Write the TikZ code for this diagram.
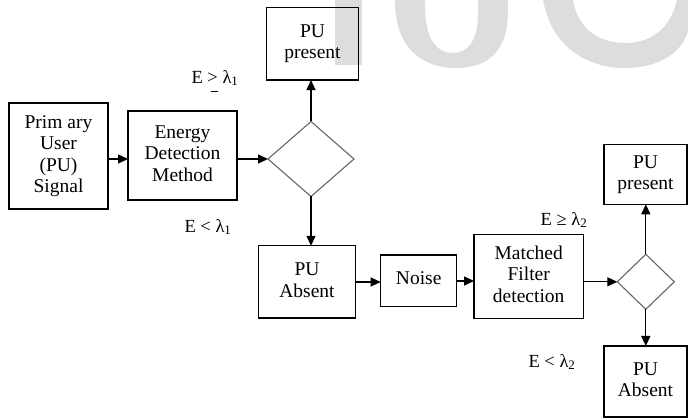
\documentclass[tikz,border=0pt]{standalone}
\usepackage{fontspec}
\setmainfont{Liberation Serif}
\usetikzlibrary{arrows.meta,shapes.geometric}
\definecolor{wm}{HTML}{DDDDDD}
\definecolor{diagray}{HTML}{666666}
\newcommand\boxtext[2]{\raisebox{#1pt}{\begin{tabular}{@{}c@{}}#2\end{tabular}}}
\begin{document}
\begin{tikzpicture}[x=1pt,y=-1pt,
  every node/.style={font=\fontsize{19.5}{21.5}\selectfont},
  blk/.style={draw=black,line width=1.3pt,rectangle,inner sep=0pt,outer sep=0pt},
  dec/.style={draw=diagray,line width=1.1pt,diamond,inner sep=0pt,outer sep=0pt},
  lbl/.style={inner sep=0pt,font=\fontsize{18.5}{21}\selectfont},
  arr/.style={draw=black,line width=1.3pt,-{Triangle[length=10pt,width=9pt]}}]
\useasboundingbox (0,0) rectangle (688,419);
% watermark
\fill[wm] (335,0) rectangle (362,65);
\fill[wm] (395,0) -- (395,5) .. controls (397,55) and (430,68) .. (455,68)
  .. controls (490,68) and (508,50) .. (508,10) -- (508,0) -- (478,0) -- (478,15)
  .. controls (478,40) and (468,53) .. (453,53) .. controls (437,53) and (425,40) .. (425,5)
  -- (425,0) -- cycle;
\fill[wm] (543,0) .. controls (552,48) and (588,68) .. (625,68)
  .. controls (662,68) and (688,50) .. (690,20) -- (690,0) -- (677,0)
  .. controls (670,30) and (650,43) .. (625,43) .. controls (600,43) and (578,30) .. (573,0)
  -- cycle;
% blocks
\node[blk,minimum width=99pt,minimum height=106pt] (prim) at (58.5,156) {\boxtext{3}{Prim ary\\User\\(PU)\\Signal}};
\node[blk,minimum width=109pt,minimum height=89pt] (energy) at (182.5,155.5) {\boxtext{3}{Energy\\Detection\\Method}};
\node[dec,minimum width=86pt,minimum height=75pt] (dia1) at (311,159) {};
\node[blk,minimum width=91.6pt,minimum height=72.7pt] (pres1) at (312.5,43.7) {\boxtext{4}{PU\\present}};
\node[blk,minimum width=97.4pt,minimum height=72.3pt] (abs1) at (307,282) {\boxtext{4}{PU\\Absent}};
\node[blk,minimum width=76pt,minimum height=51.7pt] (noise) at (418.7,281) {\boxtext{7}{Noise}};
\node[blk,minimum width=109.3pt,minimum height=84pt] (match) at (528.7,276.3) {\boxtext{0}{Matched\\Filter\\detection}};
\node[dec,minimum width=57pt,minimum height=55pt] (dia2) at (645.8,281.8) {};
\node[blk,minimum width=83pt,minimum height=59.6pt] (pres2) at (645.5,174.5) {\boxtext{0}{PU\\present}};
\node[blk,minimum width=83pt,minimum height=71pt] (abs2) at (645.5,381.5) {\boxtext{4}{PU\\Absent}};
% labels
\node[lbl] (lab1) at (215,78) {E > λ\textsubscript{1}};
\node[lbl] (dash1) at (214,92) {\rule{7pt}{1pt}};
\node[lbl] (lab2) at (208,227) {E < λ\textsubscript{1}};
\node[lbl] (lab3) at (564,220) {E ≥ λ\textsubscript{2}};
\node[lbl] (lab4) at (552,362) {E < λ\textsubscript{2}};
% connectors
\draw[arr] (prim.east |- dia1.west) -- (energy.west |- dia1.west);
\draw[arr] (energy.east |- dia1.west) -- (dia1.west);
\draw[arr] (dia1.north) -- (dia1.north |- pres1.south);
\draw[arr] (dia1.south) -- (dia1.south |- abs1.north);
\draw[arr] (abs1.east) -- (noise.west |- abs1.east);
\draw[arr] (noise.east) -- (match.west |- noise.east);
\draw[arr] (match.east |- dia2.west) -- (dia2.west);
\draw[arr] (dia2.north) -- (dia2.north |- pres2.south);
\draw[arr] (dia2.south) -- (dia2.south |- abs2.north);
\end{tikzpicture}
\end{document}
